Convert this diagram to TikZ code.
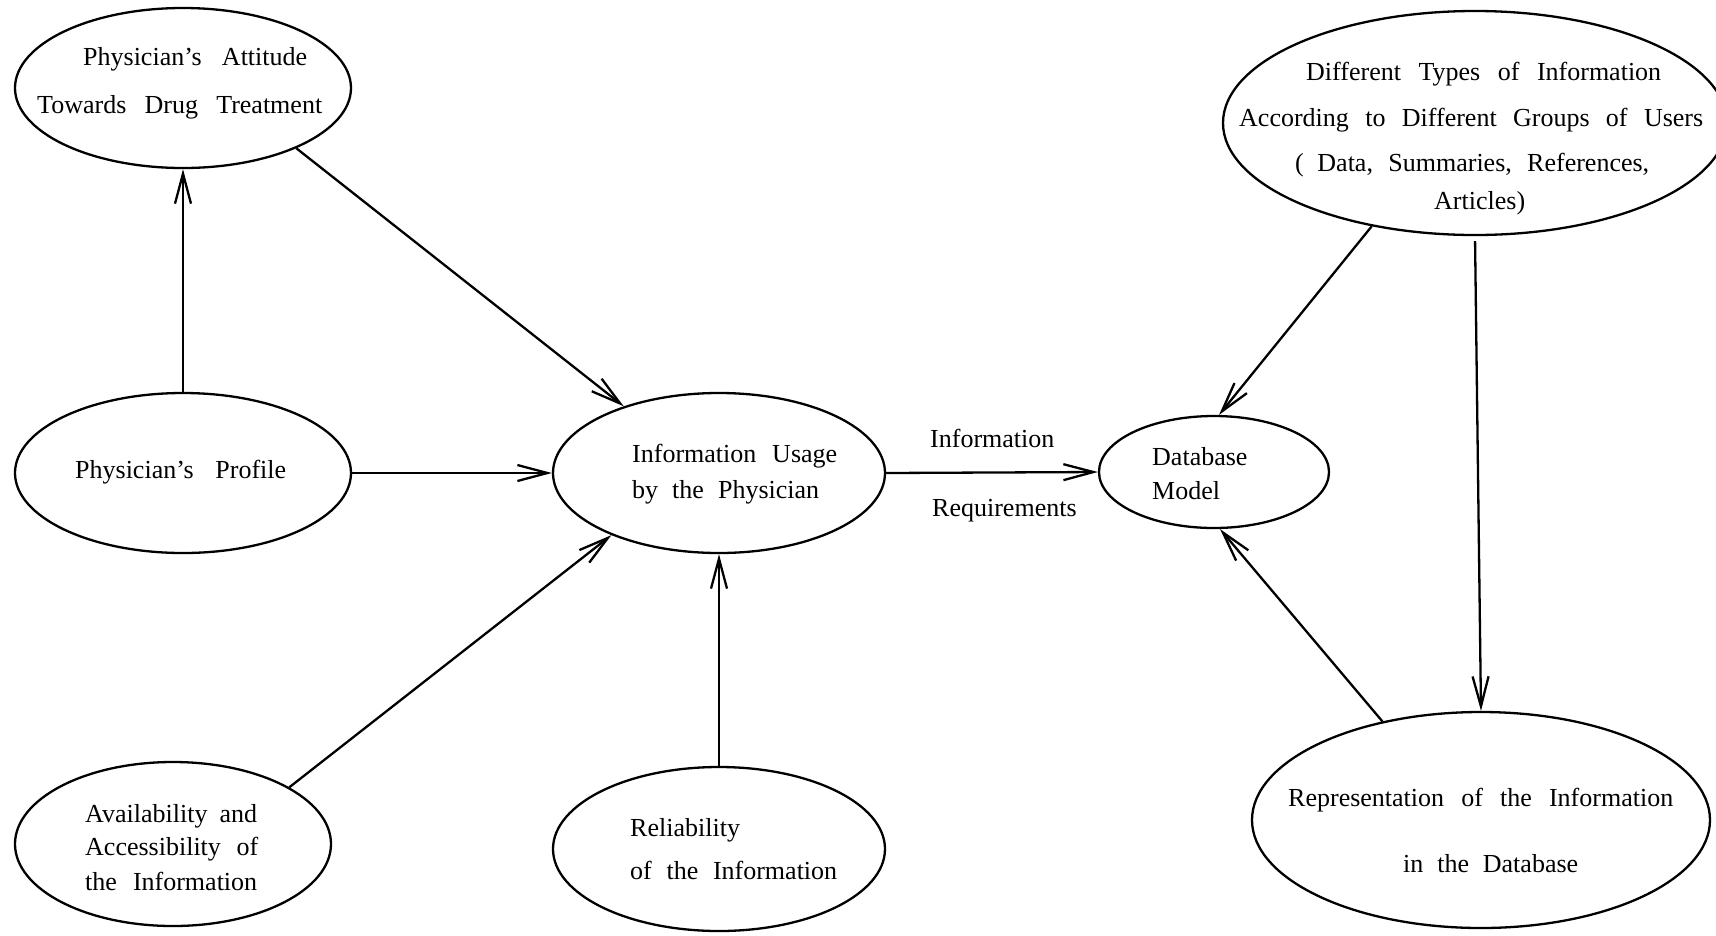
\documentclass[tikz,border=0pt]{standalone}
\usepackage{fontspec}
\setmainfont{Liberation Serif}
\usetikzlibrary{arrows.meta,shapes.geometric}
% set a line of text justified to a given width (in pt)
\newcommand{\spreadto}[2]{\makebox[#1pt][s]{#2}}
\begin{document}
\begin{tikzpicture}[x=1pt,y=-1pt,
  bubble/.style n args={2}{draw, ellipse, line width=2.3pt, inner sep=0pt,
    minimum width=#1pt, minimum height=#2pt},
  txt/.style={anchor=base west, inner sep=0pt, font=\fontsize{26}{30}\selectfont},
  link/.style={line width=2.3pt, -{Straight Barb[length=30pt,width=16pt]}}]
\useasboundingbox (0,0) rectangle (1716,935);

% ellipses
\node[bubble={336}{160}] (att)   at (183,88)   {};
\node[bubble={336}{160}] (prof)  at (183,473)  {};
\node[bubble={316}{164}] (avail) at (173,844)  {};
\node[bubble={332}{160}] (use)   at (719,473)  {};
\node[bubble={332}{164}] (rel)   at (719,849)  {};
\node[bubble={230}{112}] (db)    at (1214,472) {};
\node[bubble={504}{224}] (dt)    at (1475,123) {};
\node[bubble={458}{216}] (rep)   at (1481,820) {};

% texts
\node[txt] (att1) at (83,65)  {\spreadto{224}{Physician's Attitude}};
\node[txt] (att2) at (37,113) {\spreadto{285}{Towards Drug Treatment}};

\node[txt] (prof1) at (75,478) {\spreadto{211}{Physician's Profile}};

\node[txt] (avail1) at (85,822) {\spreadto{172}{Availability and}};
\node[txt] (avail2) at (85,855) {\spreadto{173}{Accessibility of}};
\node[txt] (avail3) at (85,890) {\spreadto{172}{the Information}};

\node[txt] (use1) at (632,462) {\spreadto{205}{Information Usage}};
\node[txt] (use2) at (632,498) {\spreadto{187}{by the Physician}};

\node[txt] (rel1) at (630,836) {Reliability};
\node[txt] (rel2) at (630,879) {\spreadto{207}{of the Information}};

\node[txt] (req1) at (930,447) {Information};
\node[txt] (req2) at (932,516) {Requirements};

\node[txt] (db1) at (1152,465) {Database};
\node[txt] (db2) at (1152,499) {Model};

\node[txt] (dt1) at (1306,80)  {\spreadto{355}{Different Types of Information}};
\node[txt] (dt2) at (1239,126) {\spreadto{464}{According to Different Groups of Users}};
\node[txt] (dt3) at (1295,171) {\spreadto{354}{( Data, Summaries, References,}};
\node[txt] (dt4) at (1434,209) {Articles)};

\node[txt] (rep1) at (1288,806) {\spreadto{385}{Representation of the Information}};
\node[txt] (rep2) at (1403,872) {\spreadto{175}{in the Database}};

% connectors
\draw[link] (prof.north) -- (att.south);
\draw[link] (att.-28) -- (use.145.5);
\draw[link] (prof.east) -- (use.west);
\draw[link] (avail.26.6) -- (use.210);
\draw[link] (rel.north) -- (use.south);
\draw[link] (use.east) -- (db.west);
\draw[link] (dt.225.6) -- (db.85);
\draw[link, shorten <=5pt] (dt.south) -- (rep.north);
\draw[link] (rep.135) -- (db.-84);
\end{tikzpicture}
\end{document}
